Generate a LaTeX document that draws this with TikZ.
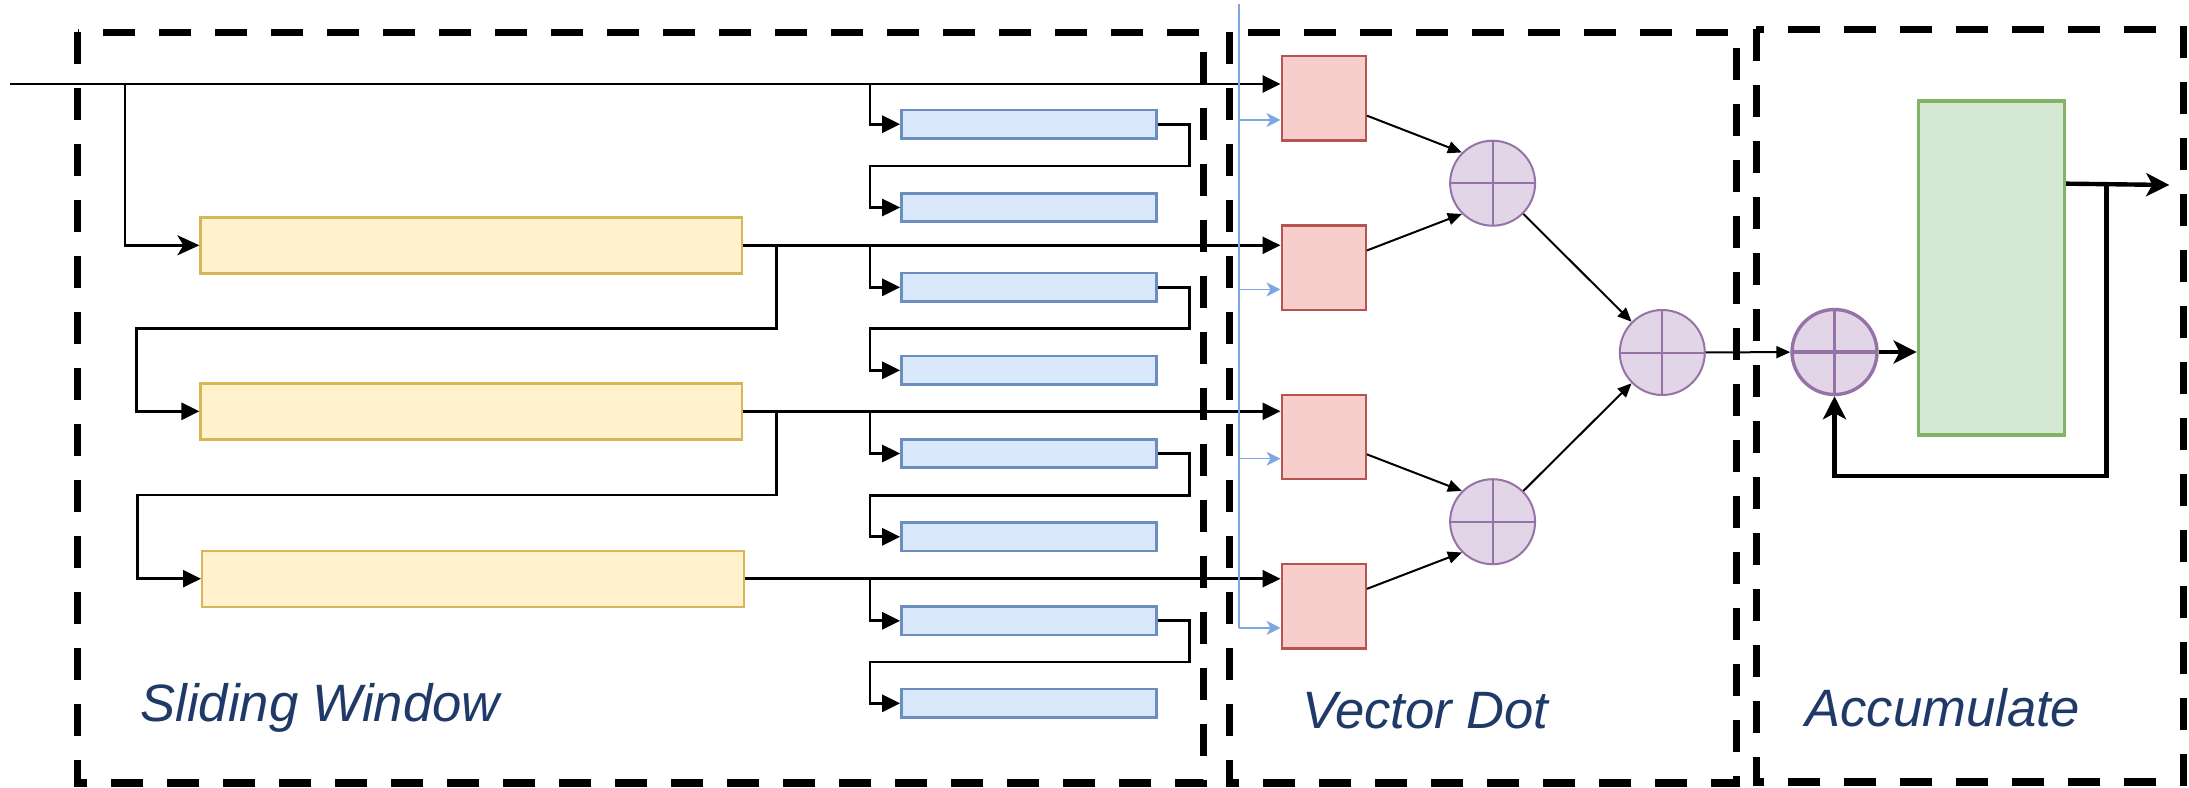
\documentclass[tikz,border=0pt]{standalone}
\usepackage{fontspec}
\setmainfont{Liberation Sans}
\usetikzlibrary{arrows.meta,calc}
\definecolor{ylwF}{HTML}{FFF2CC}\definecolor{ylwD}{HTML}{D6B656}
\definecolor{bluF}{HTML}{DAE8FC}\definecolor{bluD}{HTML}{6C8EBF}
\definecolor{redF}{HTML}{F8CECC}\definecolor{redD}{HTML}{B85450}
\definecolor{purF}{HTML}{E1D5E7}\definecolor{purD}{HTML}{9673A6}
\definecolor{grnF}{HTML}{D5E8D4}\definecolor{grnD}{HTML}{82B366}
\definecolor{bluA}{HTML}{7EA6E0}\definecolor{txtC}{HTML}{1F3A68}
\tikzset{ybox/.style={draw=ylwD,fill=ylwF,line width=1.2pt,minimum width=270.8pt,minimum height=28pt,inner sep=0pt}}
\tikzset{bbox/.style={draw=bluD,fill=bluF,line width=1.3pt,minimum width=127.5pt,minimum height=14.2pt,inner sep=0pt}}
\tikzset{rbox/.style={draw=redD,fill=redF,line width=1.1pt,minimum width=42.1pt,minimum height=42.25pt,inner sep=0pt}}
\tikzset{gbox/.style={draw=grnD,fill=grnF,line width=1.7pt,minimum width=73pt,minimum height=167pt,inner sep=0pt}}
\tikzset{adder/.style={circle,draw=purD,fill=purF,line width=#1,minimum size=42.5pt,inner sep=0pt,path picture={\draw[purD,line width=#1](path picture bounding box.north)--(path picture bounding box.south)(path picture bounding box.west)--(path picture bounding box.east);}},adder/.default=1pt}
\tikzset{frame/.style={draw,line width=3.6pt,dash pattern=on 16pt off 12pt}}
\tikzset{lbl/.style={anchor=base west,inner sep=0pt,text=txtC,font=\fontsize{26.3}{30}\selectfont\itshape}}
\tikzset{ln/.style={line width=1.35pt,-{Triangle[length=9pt,width=8.5pt]}}}
\tikzset{lns/.style={line width=1.35pt,-{Stealth[length=11pt,width=10pt,inset=3pt]}}}
\tikzset{thn/.style={line width=1pt,-{Triangle[length=7pt,width=6pt]}}}
\tikzset{thk/.style={line width=2.2pt,-{Stealth[length=11.5pt,width=11.5pt,inset=3pt]}}}
\tikzset{bar/.style={bluA,line width=0.8pt,-{Stealth[length=7pt,width=7pt,inset=2pt]}}}
\begin{document}
\begin{tikzpicture}[x=0.5pt,y=-0.5pt]
\useasboundingbox(0,0)rectangle(2189,787);
\draw[frame](77.5,32.3)rectangle(1203.5,783);\draw[frame](1229.5,32.3)rectangle(1736.2,783);\draw[frame](1756.3,29.3)rectangle(2183.6,782);
\node(y1)[ybox]at(471.4,245.3){};\node(y2)[ybox]at(471.4,411.3){};\node(y3)[ybox]at(473,578.7){};
\foreach \i/\yy in {1/124.2,2/207.5,3/287.3,4/370.3,5/453.5,6/536.8,7/620.8,8/703.3}{\node(b\i)[bbox]at(1029,\yy){};}
\foreach \i/\yy in {1/98.3,2/267.8,3/437,4/606.2}{\node(r\i)[rbox]at(1323.7,\yy){};}
\node(c1)[adder]at(1492.6,183.2){};\node(c3)[adder]at(1492.6,521.7){};\node(c2)[adder]at(1662.3,352.5){};
\node(c4)[adder=1.7pt]at(1834.5,352){};\node(acc)[gbox]at(1991.3,268){};
\coordinate(in)at(10,84);\coordinate(j0)at(125,84);\coordinate(bx)at(870,0);\coordinate(bl)at(1239,4);\coordinate(out)at(2169.3,185);
\coordinate(l1)at(in);\coordinate(l2)at(y1.east);\coordinate(l3)at(y2.east);\coordinate(l4)at(y3.east);
\draw[ln](in)--(in-|r1.west);\draw[lns](j0)|-(y1.west);
\foreach \a/\r in {y1/2,y2/3,y3/4}{\draw[ln](\a.east)--(\a.east-|r\r.west);}
\foreach \a/\b in {y1/y2,y2/y3}{\draw[ln]([xshift=16.5pt]\a.east)|-($(\a.south west)!.5!(\b.north west)+(-31.5pt,0)$)|-(\b.west);}
\foreach \r/\i/\j in {1/1/2,2/3/4,3/5/6,4/7/8}{\path($(b\i)!.5!(b\j)$)coordinate(m\i);
\draw[ln](l\r-|bx)|-(b\i.west);\draw[ln](b\i.east)--++(15.85pt,0)|-(m\i-|bx)|-(b\j.west);}
\foreach \r in {1,...,4}{\path($(r\r.north west)!.75!(r\r.south west)$)coordinate(q\r);\draw[bar](bl|-q\r)--(q\r);}
\draw[bluA,line width=0.8pt](bl)--(bl|-q4);
\draw[thn]($(r1.north east)!.7!(r1.south east)$)--(c1.135);\draw[thn]($(r2.north east)!.3!(r2.south east)$)--(c1.225);
\draw[thn]($(r3.north east)!.7!(r3.south east)$)--(c3.135);\draw[thn]($(r4.north east)!.3!(r4.south east)$)--(c3.225);
\draw[thn](c1.-45)--(c2.135);\draw[thn](c3.45)--(c2.225);\draw[thn](c2)--(c4);
\draw[thk](c4)--(c4-|acc.west);
\path($(acc.north east)!.25!(acc.south east)$)coordinate(o1);\draw[thk](o1)--(out);
\draw[thk]([xshift=20.2pt]o1)--++(0,292.3)-|(c4);
\node(sw)[lbl]at(140,721.7){Sliding Window};\node(vd)[lbl]at(1301.7,728.3){Vector Dot};\node(ac)[lbl]at(1805,726.7){Accumulate};
\end{tikzpicture}
\end{document}
